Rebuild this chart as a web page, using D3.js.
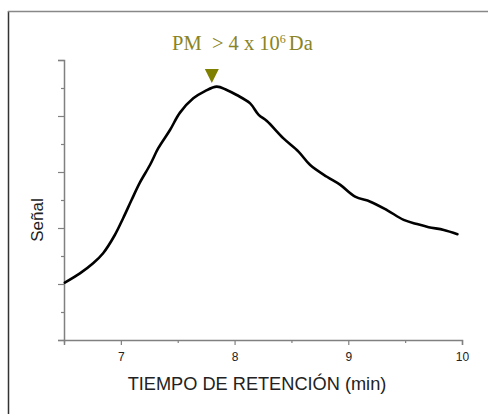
<!DOCTYPE html>
<html>
<head>
<meta charset="utf-8">
<script src="https://cdn.jsdelivr.net/npm/d3@7"></script>
<style>
  html, body { margin: 0; padding: 0; background: #fff; }
  svg { display: block; }
</style>
</head>
<body>
<svg id="chart" width="488" height="414"></svg>
<script>
// Retention time (min) and detector signal (arbitrary units)
const retentionTime = [6.507, 6.64, 6.756, 6.844, 6.947, 7.02, 7.094, 7.167, 7.256, 7.329, 7.432, 7.52, 7.637, 7.74, 7.843, 7.931, 8.019, 8.137, 8.21, 8.284, 8.43, 8.562, 8.665, 8.812, 8.93, 9.06, 9.194, 9.34, 9.487, 9.605, 9.707, 9.84, 9.96];
const signal = [2.05, 2.38, 2.74, 3.10, 3.75, 4.35, 5.0, 5.62, 6.25, 6.85, 7.5, 8.12, 8.63, 8.89, 9.05, 8.93, 8.75, 8.45, 8.05, 7.82, 7.20, 6.73, 6.25, 5.83, 5.54, 5.12, 4.94, 4.64, 4.29, 4.14, 4.03, 3.93, 3.78];
const xTicks = [7, 8, 9, 10];
const peakTime = 7.8;

const svg = d3.select("#chart");
const plotLeft = 64, plotRight = 462, plotTop = 60, plotBottom = 340;

// Outer frame (left and top edges)
svg.append("line").attr("x1", 8.5).attr("x2", 8.5).attr("y1", 11).attr("y2", 414)
  .attr("stroke", "#333").attr("stroke-width", 1.5);
svg.append("line").attr("x1", 8).attr("x2", 488).attr("y1", 11.5).attr("y2", 11.5)
  .attr("stroke", "#888").attr("stroke-width", 1.5);

const x = d3.scaleLinear().domain([6.5, 10]).range([plotLeft, plotRight]);
const y = d3.scaleLinear().domain([0, 10]).range([plotBottom, plotTop]);

// X axis: major ticks labelled, minor at half minutes
const xMinor = d3.axisBottom(x).tickValues([6.5, 7.5, 8.5, 9.5]).tickSize(3).tickFormat("");
const xMajor = d3.axisBottom(x).tickValues(xTicks).tickSize(5).tickPadding(7).tickFormat(d3.format("d"));
const gxMinor = svg.append("g").attr("transform", `translate(0,${plotBottom})`).call(xMinor);
const gx = svg.append("g").attr("transform", `translate(0,${plotBottom})`).call(xMajor);
[gx, gxMinor].forEach(g => {
  g.select(".domain").attr("stroke", "#808080").attr("stroke-width", 1.5);
  g.selectAll(".tick line").attr("stroke", "#808080").attr("stroke-width", 1.2);
});
gxMinor.select(".domain").remove();
gx.selectAll(".tick text").attr("font-family", "Liberation Sans, Arial, sans-serif")
  .attr("font-size", 12).attr("fill", "#222");

// Y axis: unlabelled, major and minor ticks
const yMajor = d3.axisLeft(y).tickValues([0, 2, 4, 6, 8, 10]).tickSize(6).tickFormat("");
const yMinor = d3.axisLeft(y).tickValues([1, 3, 5, 7, 9]).tickSize(3).tickFormat("");
const gyMinor = svg.append("g").attr("transform", `translate(${plotLeft},0)`).call(yMinor);
const gy = svg.append("g").attr("transform", `translate(${plotLeft},0)`).call(yMajor);
[gy, gyMinor].forEach(g => {
  g.select(".domain").attr("stroke", "#808080").attr("stroke-width", 1.5);
  g.selectAll(".tick line").attr("stroke", "#808080").attr("stroke-width", 1.2);
});
gyMinor.select(".domain").remove();

// Axis titles
svg.append("text").attr("x", 257).attr("y", 390).attr("text-anchor", "middle")
  .attr("font-family", "Liberation Sans, Arial, sans-serif").attr("font-size", 18.2).attr("fill", "#222")
  .text("TIEMPO DE RETENCIÓN (min)");
svg.append("text").attr("transform", "translate(43,220) rotate(-90)").attr("text-anchor", "middle")
  .attr("font-family", "Liberation Sans, Arial, sans-serif").attr("font-size", 17).attr("fill", "#222")
  .text("Señal");

// Chromatogram trace
const line = d3.line().x((d, i) => x(retentionTime[i])).y(d => y(d)).curve(d3.curveCatmullRom.alpha(0.5));
svg.append("path").datum(signal).attr("d", line)
  .attr("fill", "none").attr("stroke", "#000").attr("stroke-width", 2.6)
  .attr("stroke-linejoin", "round").attr("stroke-linecap", "round");

// Peak marker and molecular weight annotation
const px = x(peakTime);
svg.append("path").attr("d", `M${px - 7},69 L${px + 7},69 L${px},83 Z`).attr("fill", "#7f7f00");
const note = svg.append("text").attr("x", 172).attr("y", 50).style("white-space", "pre")
  .attr("font-family", "Liberation Serif, 'DejaVu Serif', serif").attr("font-size", 20.5).attr("fill", "#8a8424");
note.append("tspan").text("PM  > 4 x 10");
note.append("tspan").attr("font-size", 12).attr("dy", -7).text("6");
note.append("tspan").attr("dy", 7).attr("dx", 3).text("Da");
</script>
</body>
</html>
